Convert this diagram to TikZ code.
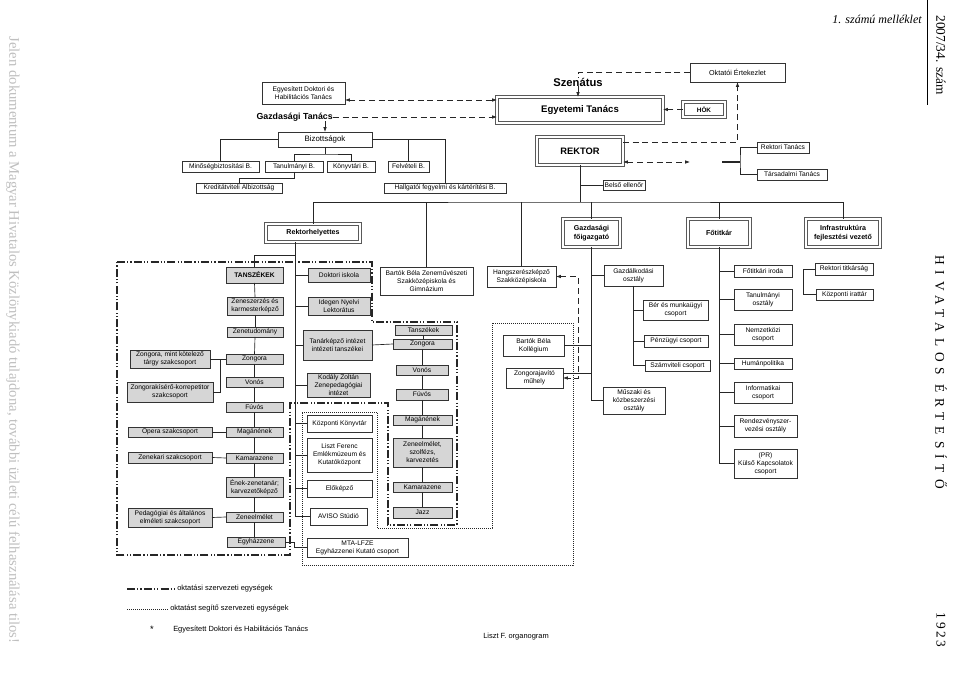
\documentclass[tikz,border=0pt]{standalone}
\usepackage{fontspec}
\setmainfont{Liberation Sans}
\newfontfamily\tms{Liberation Serif}
\usetikzlibrary{arrows.meta,shadows,calc}
\newcommand\obox[7]{\node[#1, minimum width={0.75pt*(#4-#2)}, minimum height={0.75pt*(#5-#3)}] (#6) at ({(#2+#4)/2},{(#3+#5)/2}) {#7};}
\begin{document}
\begin{tikzpicture}[x=0.75pt,y=-0.75pt,
  >={Latex[length=3.6pt,width=2.6pt]},
  bxbase/.style={inner sep=0pt, outer sep=0pt, align=center, font=\fontsize{5.0}{6.0}\selectfont},
  wbox/.style={bxbase, draw=black!80, line width=0.45pt, fill=white, drop shadow={shadow xshift=0.7pt, shadow yshift=-0.7pt, fill=black!50, opacity=1}},
  gbox/.style={wbox, fill=black!16},
  dbox/.style={bxbase, draw=black!65, line width=0.8pt, double=white, double distance=0.9pt, fill=white, font=\fontsize{5.3}{6.4}\selectfont\bfseries},
  conn/.style={line width=0.5pt, draw=black!85},
  dconn/.style={conn, dash pattern=on 4.5pt off 2.8pt},
  dashdot/.style={line width=0.9pt, draw=black!85, dash pattern=on 6pt off 1.6pt on 0.9pt off 1.6pt on 0.9pt off 1.6pt},
  dotline/.style={line width=0.7pt, draw=black!85, dash pattern=on 0.6pt off 0.9pt},
  lbl/.style={inner sep=0pt, font=\fontsize{5.6}{6.5}\selectfont}
  ]
\useasboundingbox (0,0) rectangle (960,680);
\fill[white] (0,0) rectangle (960,680);

% ---------- margin texts ----------
\node[rotate=-90, inner sep=0pt, text=black!25, font=\tms\fontsize{11}{12}\selectfont] (wm) at (13,340) {Jelen dokumentum a Magyar Hivatalos Közlönykiadó tulajdona, további üzleti célú felhasználása tilos!};
\node[anchor=east, inner sep=0pt, font=\tms\itshape\fontsize{9}{10}\selectfont] (mell) at (922,19) {1. számú melléklet};
\node[rotate=-90, inner sep=0pt, font=\tms\fontsize{10}{11}\selectfont] (szam) at (941,55) {2007/34. szám};
\node[rotate=-90, inner sep=0pt, font=\tms\fontsize{10}{11}\selectfont\addfontfeature{LetterSpace=45}] (hiv) at (941,372) {HIVATALOS ÉRTESÍTŐ};
\node[rotate=-90, inner sep=0pt, font=\tms\fontsize{10}{11}\selectfont\addfontfeature{LetterSpace=20}] (evf) at (941,630) {1923};
\draw[line width=0.5pt] (927,0) -- (927,105);

% ---------- top level ----------
\obox{wbox}{262}{82}{345}{104}{edht}{Egyesített Doktori és\\Habilitációs Tanács}
\node[anchor=east, inner sep=0pt, font=\fontsize{6.6}{7}\selectfont\bfseries] (gt) at (333,117) {Gazdasági Tanács};
\obox{wbox,font=\fontsize{5.9}{6.5}\selectfont}{278}{132}{372}{147}{biz}{Bizottságok}
\obox{wbox}{182}{161}{259}{172}{minb}{Minőségbiztosítási B.}
\obox{wbox}{265}{161}{323}{172}{tanb}{Tanulmányi B.}
\obox{wbox}{327}{161}{375}{172}{konb}{Könyvtári B.}
\obox{wbox}{388}{161}{429}{172}{felb}{Felvételi B.}
\obox{wbox}{196}{183}{282}{193}{kred}{Kreditátviteli Albizottság}
\obox{wbox}{384}{183}{506}{193}{hallg}{Hallgatói fegyelmi és kártérítési B.}

\node[inner sep=0pt, font=\fontsize{8.4}{9}\selectfont\bfseries] (szen) at (578,82) {Szenátus};
\obox{wbox,font=\fontsize{5.4}{6}\selectfont}{690}{63}{785}{82}{okt}{Oktatói Értekezlet}
\obox{dbox,font=\fontsize{7.2}{8}\selectfont\bfseries}{497}{97}{663}{123}{et}{Egyetemi Tanács}
\obox{dbox,font=\fontsize{4.8}{5.5}\selectfont\bfseries}{683}{102}{725}{117}{hok}{HÖK}
\obox{dbox,font=\fontsize{7}{8}\selectfont\bfseries}{537}{137}{623}{165}{rek}{REKTOR}
\obox{wbox}{757}{142}{809}{153}{rt}{Rektori Tanács}
\obox{wbox}{757}{169}{827}{180}{tt}{Társadalmi Tanács}
\obox{wbox}{603}{180}{645}{190}{be}{Belső ellenőr}

% ---------- second level ----------
\obox{dbox}{266}{224}{360}{242}{rh}{Rektorhelyettes}
\obox{dbox}{563}{219}{620}{247}{gf}{Gazdasági\\főigazgató}
\obox{dbox}{688}{219}{750}{247}{ft}{Főtitkár}
\obox{dbox}{806}{219}{880}{247}{inf}{Infrastruktúra\\fejlesztési vezető}
\obox{wbox}{380}{267}{473}{295}{bbzsz}{Bartók Béla Zeneművészeti\\Szakközépiskola és\\Gimnázium}
\obox{wbox}{487}{266}{556}{287}{hszk}{Hangszerészképző\\Szakközépiskola}

% ---------- Gazdasági ----------
\obox{wbox}{604}{265}{663}{286}{gazd}{Gazdálkodási\\osztály}
\obox{wbox}{643}{300}{708}{320}{ber}{Bér és munkaügyi\\csoport}
\obox{wbox}{644}{335}{708}{347}{penz}{Pénzügyi csoport}
\obox{wbox}{645}{360}{710}{371}{szv}{Számviteli csoport}
\obox{wbox}{603}{387}{665}{414}{musz}{Műszaki és\\közbeszerzési\\osztály}
\obox{wbox}{503}{335}{564}{356}{bbk}{Bartók Béla\\Kollégium}
\obox{wbox}{506}{368}{563}{388}{zjm}{Zongorajavító\\műhely}

% ---------- Főtitkár ----------
\obox{wbox}{734}{265}{792}{277}{fti}{Főtitkári iroda}
\obox{wbox}{734}{289}{792}{310}{tano}{Tanulmányi\\osztály}
\obox{wbox}{734}{324}{792}{345}{nemz}{Nemzetközi\\csoport}
\obox{wbox}{734}{358}{792}{369}{hum}{Humánpolitika}
\obox{wbox}{734}{382}{792}{403}{info}{Informatikai\\csoport}
\obox{wbox}{734}{415}{797}{437}{rend}{Rendezvényszer-\\vezési osztály}
\obox{wbox}{734}{449}{797}{478}{pr}{(PR)\\Külső Kapcsolatok\\csoport}
\obox{wbox}{815}{263}{873}{275}{rtit}{Rektori titkárság}
\obox{wbox}{816}{289}{873}{300}{kirat}{Központi irattár}

% ---------- Tanszékek (left) ----------
\obox{gbox}{226}{267}{283}{283}{tsz}{\bfseries TANSZÉKEK}
\obox{gbox}{227}{297}{283}{315}{zk}{Zeneszerzés és\\karmesterképző}
\obox{gbox}{227}{327}{283}{337}{ztud}{Zenetudomány}
\obox{gbox}{226}{354}{283}{364}{zong}{Zongora}
\obox{gbox}{226}{377}{283}{387}{von}{Vonós}
\obox{gbox}{226}{402}{283}{412}{fuv}{Fúvós}
\obox{gbox}{226}{427}{283}{437}{mag}{Magánének}
\obox{gbox}{226}{453}{283}{463}{kam}{Kamarazene}
\obox{gbox}{226}{477}{283}{497}{enek}{Ének-zenetanár;\\karvezetőképző}
\obox{gbox}{226}{512}{283}{522}{zel}{Zeneelmélet}
\obox{gbox}{227}{537}{285}{547}{egyh}{Egyházzene}

\obox{gbox}{130}{350}{210}{368}{zmk}{Zongora, mint kötelező\\tárgy szakcsoport}
\obox{gbox}{127}{382}{213}{402}{zkk}{Zongorakísérő-korrepetitor\\szakcsoport}
\obox{gbox}{128}{427}{212}{437}{opera}{Opera szakcsoport}
\obox{gbox}{128}{452}{212}{463}{zenek}{Zenekari szakcsoport}
\obox{gbox}{128}{508}{212}{527}{ped}{Pedagógiai és általános\\elméleti szakcsoport}

% ---------- middle column ----------
\obox{gbox}{308}{268}{370}{282}{dok}{Doktori iskola}
\obox{gbox}{308}{297}{370}{315}{inl}{Idegen Nyelvi\\Lektorátus}
\obox{gbox}{303}{330}{372}{360}{tki}{Tanárképző intézet\\intézeti tanszékei}
\obox{gbox}{307}{373}{370}{397}{kod}{Kodály Zoltán\\Zenepedagógiai\\intézet}
\obox{wbox}{307}{415}{372}{432}{kk}{Központi Könyvtár}
\obox{wbox}{307}{438}{372}{472}{lf}{Liszt Ferenc\\Emlékmúzeum és\\Kutatóközpont}
\obox{wbox}{307}{480}{372}{497}{ek}{Előképző}
\obox{wbox}{310}{508}{367}{525}{av}{AVISO Stúdió}
\obox{wbox}{307}{538}{408}{557}{mta}{MTA-LFZE\\Egyházzenei Kutató csoport}

% ---------- Tanárképző sub column ----------
\obox{gbox}{395}{325}{452}{335}{tsz2}{Tanszékek}
\obox{gbox}{393}{339}{452}{349}{zong2}{Zongora}
\obox{gbox}{396}{365}{448}{375}{von2}{Vonós}
\obox{gbox}{396}{389}{448}{400}{fuv2}{Fúvós}
\obox{gbox}{393}{415}{452}{425}{mag2}{Magánének}
\obox{gbox}{393}{438}{452}{467}{zel2}{Zeneelmélet,\\szolfézs,\\karvezetés}
\obox{gbox}{393}{482}{452}{492}{kam2}{Kamarazene}
\obox{gbox}{393}{507}{452}{518}{jazz}{Jazz}

% ---------- connectors: top ----------
\draw[dconn,<->] ($(edht.south east)+(0,-4)$) -- ($(et.west |- edht.south east)+(0,-4)$);
\draw[dconn,->] (gt.east) -- (gt.east -| et.west);
\draw[conn,->] (biz.north |- gt.south) -- (biz.north);
\draw[conn] (biz.west) -| (minb.north);
\draw[conn] (biz.east) -| (hallg.north);
\draw[conn] (biz.east -| felb.north) -- (felb.north);
\coordinate (bj) at ($(biz.south)+(0,7)$);
\draw[conn] (biz.south) -- (bj);
\draw[conn] (tanb.north) |- (bj) -| (konb.north);
\draw[conn] (tanb.south) |- ($(kred.north)+(0,-5)$) -- (kred.north);

\draw[conn,->] (szen.south) -- (szen.south |- et.north);
\draw[dconn] (okt.west) -| (szen.north);
\draw[dconn,->] (hok.west) -- (hok.west -| et.east);
\draw[dconn,->] ($(rek.north east)+(0,5)$) -| (okt.south);
\coordinate (rarr) at (690,162);
\draw[dconn,<->] ($(rek.south east)+(0,-3)$) -- (rarr);
\coordinate (tk) at (722,162);
\coordinate (tj) at (740,162);
\draw[line width=1.3pt, black!85] (tk) -- (tj);
\draw[conn] (rt.west) -| (tj) |- (tt.west);

\coordinate (hz) at ($(rek.south)+(0,37)$);
\draw[conn] (rek.south) -- (hz);
\draw[conn] (be.west) -- (be.west -| rek.south);
\draw[conn] (rh.north) |- (hz) -| (inf.north);
\draw[conn] (bbzsz.north) -- (bbzsz.north |- hz);
\draw[conn] (hszk.north) -- (hszk.north |- hz);
\draw[conn] (gf.north) -- (gf.north |- hz);
\draw[conn] (ft.north) -- (ft.north |- hz);

% ---------- Rektorhelyettes trunk ----------
\coordinate (rt0) at ($(rh.south west)+(29,0)$);
\draw[conn] (rt0) -- (rt0 |- av.west);
\draw[conn] (tsz.north) |- ($(rt0)+(0,13)$);
\foreach \n in {dok,inl,tki,kod,kk,lf,ek,av} {
  \draw[conn] (\n.west) -- (\n.west -| rt0);
}
\draw[conn] (tsz.south) -- (zk.north);
\draw[conn] (zk.south) -- (ztud.north);
\draw[conn] (ztud.south) -- (zong.north);
\draw[conn] (zong.south) -- (von.north);
\draw[conn] (von.south) -- (fuv.north);
\draw[conn] (fuv.south) -- (mag.north);
\draw[conn] (mag.south) -- (kam.north);
\draw[conn] (kam.south) -- (enek.north);
\draw[conn] (enek.south) -- (zel.north);
\draw[conn] (zel.south) -- (zel.south |- egyh.north);
\draw[conn] (zmk.east) -- (zong.west);
\coordinate (zj) at ($(zmk.east)+(10,0)$);
\draw[conn] (zkk.east) -| (zj);
\draw[conn] (opera.east) -- (mag.west);
\draw[conn] (zenek.east) -- (kam.west);
\draw[conn] (ped.east) -- (zel.west);
\draw[conn] (egyh.east) -- ++(9,0) |- (mta.west);

\draw[conn] (tki.east) -- (zong2.west);
\draw[conn] (tsz2.south) -- (tsz2.south |- zong2.north);
\draw[conn] (zong2.south) -- (zong2.south |- von2.north);
\draw[conn] (von2.south) -- (fuv2.north);
\draw[conn] (fuv2.south) -- (fuv2.south |- mag2.north);
\draw[conn] (mag2.south) -- (zel2.north);
\draw[conn] (zel2.south) -- (kam2.north);
\draw[conn] (kam2.south) -- (jazz.north);

% ---------- Gazdasági connectors ----------
\draw[conn] (gf.south) |- (musz.west);
\draw[conn] (gazd.west) -- (gazd.west -| gf.south);
\draw[conn] (bbk.east) -- (bbk.east -| gf.south);
\draw[conn] ($(zjm.east)+(0,-5)$) -- ($(zjm.east -| gf.south)+(0,-5)$);
\draw[dconn,<->] (hszk.east) -- ++(22,0) |- (zjm.east);
\draw[conn] (gazd.south) |- (szv.west);
\draw[conn] (ber.west) -- (ber.west -| gazd.south);
\draw[conn] (penz.west) -- (penz.west -| gazd.south);

% ---------- Főtitkár connectors ----------
\draw[conn] (ft.south) |- (pr.west);
\foreach \n in {fti,tano,nemz,hum,info,rend} {
  \draw[conn] (\n.west) -- (\n.west -| ft.south);
}
\draw[conn] (rtit.west) -| ($(fti.east)+(11,0)$) |- (kirat.west);

% ---------- regions ----------
\draw[dashdot] (117,262) -- (372,262) -- (372,322) -- (457,322) -- (457,525) -- (388,525) -- (388,403) -- (290,403) -- (290,555) -- (117,555) -- cycle;
\draw[dotline] (302,412) -- (377,412) -- (377,528) -- (492,528) -- (492,323) -- (573,323) -- (573,565) -- (302,565) -- cycle;

% ---------- legend ----------
\coordinate (lg1a) at (127,589);
\coordinate (lg1b) at (175,589);
\draw[dashdot] (lg1a) -- (lg1b);
\node[lbl, anchor=west] (lt1) at (177,589) {oktatási szervezeti egységek};
\coordinate (lg2a) at (127,609);
\coordinate (lg2b) at (168,609);
\draw[dotline] (lg2a) -- (lg2b);
\node[lbl, anchor=west] (lt2) at (170,609) {oktatást segítő szervezeti egységek};
\node[inner sep=0pt, font=\fontsize{7}{8}\selectfont] (star) at (152,629) {*};
\node[lbl, anchor=west] (lt3) at (173,630) {Egyesített Doktori és Habilitációs Tanács};
\node[lbl, anchor=west] (org) at (483,637) {Liszt F. organogram};
\end{tikzpicture}
\end{document}
